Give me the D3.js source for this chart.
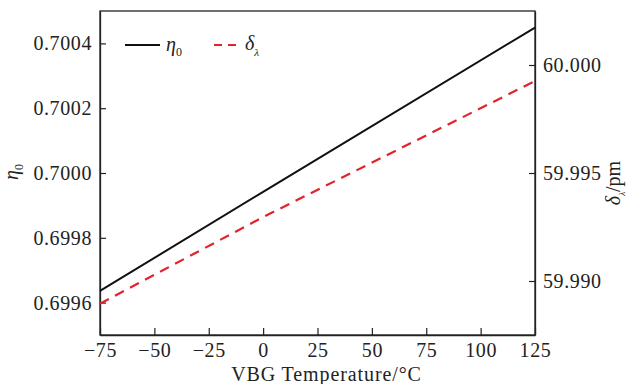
<!DOCTYPE html>
<html>
<head>
<meta charset="utf-8">
<script src="https://cdn.jsdelivr.net/npm/d3@7"></script>
<style>
  body { margin: 0; background: #fff; }
</style>
</head>
<body>
<svg id="chart"></svg>
<script>
// temperatures
const temps = [-75, 0, 125];
const eta0 = [0.699636, 0.699942, 0.700449];
const deltaLambda = [59.98895, 59.99296, 59.99926];

const xTicks = [-75, -50, -25, 0, 25, 50, 75, 100, 125];
const leftTicks = [0.6996, 0.6998, 0.7000, 0.7002, 0.7004];
const rightTicks = [59.990, 59.995, 60.000];

const svgWidth = 627, svgHeight = 384;
const margin = { top: 11, bottom: 49, left: 100, right: 92 };
const width = svgWidth - margin.left - margin.right;
const height = svgHeight - margin.top - margin.bottom;
const serif = 'Liberation Serif';

const svg = d3.select('#chart')
    .attr('width', svgWidth)
    .attr('height', svgHeight);
const g = svg.append('g')
    .attr('transform', 'translate(' + margin.left + ',' + margin.top + ')');

const x = d3.scaleLinear().domain([-75, 125]).range([0, width]);
const yL = d3.scaleLinear().domain([0.6995, 0.7005]).range([height, 0]);
const yR = d3.scaleLinear().domain([59.9875, 60.0025]).range([height, 0]);

const fs = 20;
const minus = s => s.replace('-', '\u2212');

// frame
g.append('rect')
    .attr('width', width).attr('height', height)
    .attr('fill', 'none').attr('stroke', '#222').attr('stroke-width', 1.3);

const xAxis = d3.axisBottom(x).tickValues(xTicks).tickSizeInner(-7).tickSizeOuter(0)
    .tickPadding(8).tickFormat(d => minus(d3.format('d')(d)));
g.append('g').attr('class', 'axis')
    .attr('transform', 'translate(0,' + height + ')')
    .call(xAxis);

const leftAxis = d3.axisLeft(yL).tickValues(leftTicks).tickSizeInner(-6).tickSizeOuter(0)
    .tickPadding(8).tickFormat(d3.format('.4f'));
g.append('g').attr('class', 'axis').call(leftAxis);

const rightAxis = d3.axisRight(yR).tickValues(rightTicks).tickSizeInner(-6).tickSizeOuter(0)
    .tickPadding(8).tickFormat(d3.format('.3f'));
g.append('g').attr('class', 'axis')
    .attr('transform', 'translate(' + width + ',0)')
    .call(rightAxis);

g.selectAll('.axis').attr('font-family', serif);
g.selectAll('.axis path').attr('stroke', '#222').attr('stroke-width', 1.3);
g.selectAll('.axis line').attr('stroke', '#222').attr('stroke-width', 1.2);
g.selectAll('.axis text').attr('font-size', fs).attr('fill', '#222')
    .attr('font-family', serif).attr('letter-spacing', 0.6);

// lines
const etaLine = d3.line().x((d, i) => x(temps[i])).y(d => yL(d));
const dlLine = d3.line().x((d, i) => x(temps[i])).y(d => yR(d));

g.append('path').datum(eta0)
    .attr('d', etaLine)
    .attr('fill', 'none').attr('stroke', '#111').attr('stroke-width', 2);

g.append('path').datum(deltaLambda)
    .attr('d', dlLine)
    .attr('fill', 'none').attr('stroke', '#e0242b').attr('stroke-width', 2.2)
    .attr('stroke-dasharray', '10,7');

// legend
const leg = g.append('g').attr('transform', 'translate(25,34)');
leg.append('line').attr('x1', 0).attr('x2', 35)
    .attr('stroke', '#111').attr('stroke-width', 2);
const t1 = leg.append('text').attr('x', 41).attr('y', 6)
    .attr('font-size', fs).attr('font-family', serif).attr('fill', '#222');
t1.append('tspan').attr('font-style', 'italic').text('\u03b7');
t1.append('tspan').attr('font-size', 12).attr('dy', 5).text('0');

leg.append('line').attr('x1', 89).attr('x2', 112)
    .attr('stroke', '#e0242b').attr('stroke-width', 2.2)
    .attr('stroke-dasharray', '8,6');
const t2 = leg.append('text').attr('x', 120).attr('y', 5)
    .attr('font-size', fs).attr('font-family', serif).attr('fill', '#222');
t2.append('tspan').attr('font-style', 'italic').text('\u03b4');
t2.append('tspan').attr('font-style', 'italic').attr('font-size', 11).attr('dy', 6).text('\u03bb');

// axis titles
svg.append('text')
    .attr('x', margin.left + width / 2 + 9).attr('y', 381)
    .attr('text-anchor', 'middle').attr('font-size', fs)
    .attr('font-family', serif).attr('fill', '#222').attr('letter-spacing', 0.9)
    .text('VBG Temperature/\u00b0C');

const ly = svg.append('text')
    .attr('transform', 'translate(18,172) rotate(-90)')
    .attr('text-anchor', 'middle').attr('font-size', fs)
    .attr('font-family', serif).attr('fill', '#222');
ly.append('tspan').attr('font-style', 'italic').text('\u03b7');
ly.append('tspan').attr('font-size', 12).attr('dy', 5).text('0');

const ry = svg.append('text')
    .attr('transform', 'translate(620,183) rotate(-90)')
    .attr('text-anchor', 'middle').attr('font-size', fs)
    .attr('font-family', serif).attr('fill', '#222');
ry.append('tspan').attr('font-style', 'italic').text('\u03b4');
ry.append('tspan').attr('font-style', 'italic').attr('font-size', 9).attr('dy', 5).text('\u03bb');
ry.append('tspan').attr('dy', -5).text('/pm');
</script>
</body>
</html>
